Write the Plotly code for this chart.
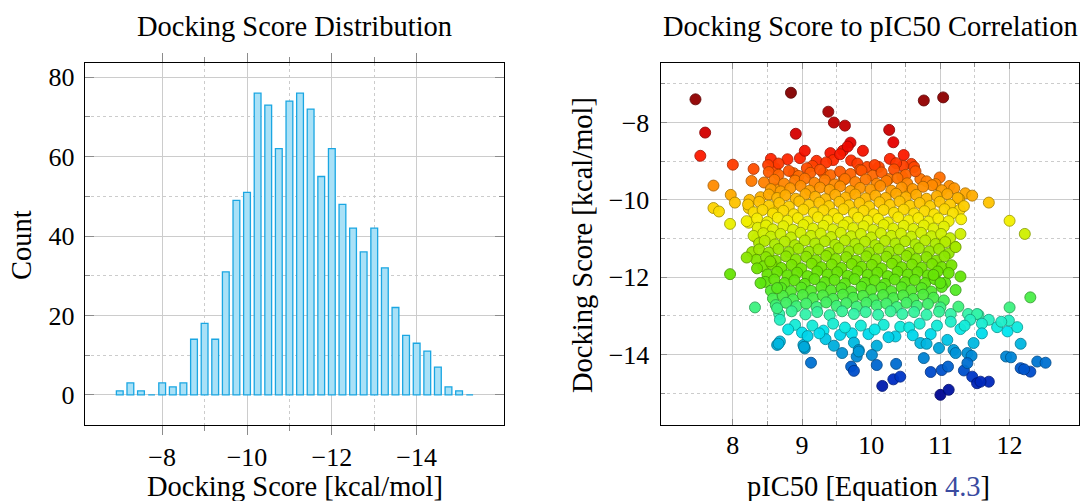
import numpy as np
import plotly.graph_objects as go

# ---------------- Histogram data ----------------
bin_centers = [-7.0, -7.25, -7.5, -7.75, -8.0, -8.25, -8.5, -8.75, -9.0, -9.25,
               -9.5, -9.75, -10.0, -10.25, -10.5, -10.75, -11.0, -11.25, -11.5, -11.75,
               -12.0, -12.25, -12.5, -12.75, -13.0, -13.25, -13.5, -13.75, -14.0, -14.25,
               -14.5, -14.75, -15.0, -15.25]
counts = [1, 3, 1, 0, 3, 2, 3, 14, 18, 14,
          31, 49, 51, 76, 73, 62, 74, 76, 72, 55,
          62, 48, 42, 36, 42, 32, 22, 15, 13, 11,
          7, 2, 1, 0]

hist_xticks = [-8, -10, -12, -14]
hist_xminor = [-9, -11, -13]
hist_yticks = [0, 20, 40, 60, 80]
hist_yminor = [10, 30, 50, 70]

# ---------------- Scatter data: (pIC50, docking score) ----------------
outliers_red = [
    (7.46, -7.40), (8.84, -7.23), (10.76, -7.43), (11.04, -7.35),
    (9.38, -7.72), (9.46, -8.00), (9.62, -8.08), (7.60, -8.26), (8.91, -8.29),
    (10.26, -8.19), (10.32, -8.51), (7.53, -8.86),
]
band_red = [
    (8.00, -9.09), (8.30, -9.20), (8.55, -8.94), (8.61, -9.18), (8.79, -8.95), (8.97, -8.92),
    (9.04, -8.73), (9.21, -8.99), (9.41, -8.79), (9.45, -8.97), (9.59, -8.73), (9.70, -8.52),
    (9.66, -8.62), (9.71, -8.98), (9.88, -8.73), (10.27, -8.94), (10.47, -8.84), (10.58, -9.07),
    (10.46, -9.12), (10.11, -9.15), (9.94, -9.15), (9.55, -8.82), (9.35, -9.03), (8.66, -9.06),
    (9.80, -9.06), (10.05, -9.10), (10.62, -9.15), (8.51, -9.10), (9.15, -9.12), (10.36, -9.05),
]
band_orange = [
    (8.27, -9.51), (7.72, -9.63), (7.97, -9.87), (8.03, -10.07), (7.72, -10.21), (7.80, -10.30),
    (7.96, -10.62), (8.24, -10.00), (8.23, -10.21), (8.23, -10.59), (8.35, -10.99), (8.58, -10.27),
    (8.61, -9.70), (8.88, -9.31), (9.07, -9.18), (9.31, -9.31), (9.60, -9.48), (9.84, -9.22),
    (10.25, -9.46), (10.71, -9.46), (10.99, -9.42), (10.45, -9.40), (10.93, -9.59), (11.13, -9.64),
    (10.56, -9.77), (11.36, -9.83), (11.46, -9.89), (11.70, -10.07), (12.00, -10.54), (12.22, -10.88),
    (11.29, -10.88), (11.21, -11.21), (11.04, -11.06), (11.28, -10.26), (11.27, -9.97),
]
core_upper = [
    (8.52, -9.28), (8.66, -9.35), (8.81, -9.25), (8.95, -9.38), (9.12, -9.30), (9.26, -9.22),
    (9.41, -9.36), (9.55, -9.27), (9.70, -9.33), (9.86, -9.24), (10.02, -9.37), (10.15, -9.29),
    (10.33, -9.21), (10.50, -9.35), (10.64, -9.26),
    (8.45, -9.55), (8.60, -9.48), (8.74, -9.58), (8.90, -9.50), (9.04, -9.45), (9.18, -9.56),
    (9.33, -9.49), (9.47, -9.60), (9.62, -9.46), (9.77, -9.54), (9.92, -9.47), (10.08, -9.58),
    (10.22, -9.51), (10.38, -9.44), (10.52, -9.57), (10.80, -9.52), (10.88, -9.62),
    (8.55, -9.72), (8.69, -9.78), (8.83, -9.70), (8.98, -9.64), (9.11, -9.76), (9.26, -9.68),
    (9.40, -9.74), (9.55, -9.65), (9.70, -9.77), (9.84, -9.69), (9.99, -9.73), (10.13, -9.64),
    (10.29, -9.76), (10.44, -9.68), (10.60, -9.72), (10.75, -9.66), (11.02, -9.75), (11.20, -9.70),
    (8.40, -9.93), (8.52, -9.86), (8.64, -9.95), (8.76, -9.88), (8.91, -9.97), (9.05, -9.85),
    (9.19, -9.92), (9.34, -9.98), (9.48, -9.87), (9.63, -9.94), (9.77, -9.86), (9.92, -9.96),
    (10.06, -9.89), (10.21, -9.95), (10.36, -9.84), (10.50, -9.93), (10.65, -9.87), (10.80, -9.97),
    (10.95, -9.90), (11.10, -9.85), (11.25, -9.95),
]
core_yellow = [
    (8.22, -10.12), (8.38, -10.05), (8.52, -10.15), (8.67, -10.08), (8.81, -10.17), (8.96, -10.04),
    (9.10, -10.13), (9.25, -10.07), (9.39, -10.16), (9.54, -10.05), (9.68, -10.14), (9.83, -10.08),
    (9.97, -10.17), (10.12, -10.06), (10.27, -10.13), (10.41, -10.04), (10.56, -10.15), (10.70, -10.08),
    (10.85, -10.16), (10.99, -10.05), (11.14, -10.12), (11.34, -10.16),
    (8.30, -10.32), (8.43, -10.26), (8.58, -10.35), (8.73, -10.28), (8.88, -10.37), (9.02, -10.25),
    (9.17, -10.33), (9.31, -10.27), (9.46, -10.36), (9.60, -10.24), (9.75, -10.34), (9.89, -10.28),
    (10.04, -10.37), (10.18, -10.26), (10.33, -10.33), (10.47, -10.25), (10.62, -10.35), (10.77, -10.29),
    (10.91, -10.37), (11.06, -10.24), (11.18, -10.34),
    (8.20, -10.55), (8.35, -10.48), (8.50, -10.57), (8.65, -10.46), (8.79, -10.54), (8.94, -10.47),
    (9.08, -10.56), (9.23, -10.45), (9.37, -10.53), (9.52, -10.48), (9.66, -10.57), (9.81, -10.46),
    (9.95, -10.54), (10.10, -10.49), (10.24, -10.58), (10.39, -10.45), (10.54, -10.53), (10.68, -10.47),
    (10.83, -10.56), (10.97, -10.48), (11.12, -10.55), (11.30, -10.50),
    (8.36, -10.72), (8.48, -10.66), (8.58, -10.76), (8.73, -10.68), (8.87, -10.77), (9.02, -10.65),
    (9.16, -10.74), (9.31, -10.67), (9.45, -10.76), (9.60, -10.66), (9.74, -10.73), (9.89, -10.68),
    (10.03, -10.77), (10.18, -10.65), (10.32, -10.74), (10.47, -10.67), (10.61, -10.75), (10.76, -10.66),
    (10.90, -10.74), (11.05, -10.69),
    (8.30, -10.93), (8.44, -10.86), (8.55, -10.95), (8.69, -10.88), (8.84, -10.97), (8.98, -10.85),
    (9.13, -10.93), (9.27, -10.87), (9.42, -10.96), (9.56, -10.85), (9.71, -10.94), (9.85, -10.88),
    (10.00, -10.97), (10.14, -10.86), (10.29, -10.93), (10.43, -10.87), (10.58, -10.95), (10.72, -10.85),
    (10.87, -10.94), (11.01, -10.88), (11.14, -10.99),
]
core_green = [
    (8.38, -11.12), (8.46, -11.06), (8.61, -11.15), (8.75, -11.08), (8.90, -11.17), (9.04, -11.05),
    (9.19, -11.13), (9.33, -11.07), (9.48, -11.16), (9.62, -11.05), (9.77, -11.14), (9.91, -11.08),
    (10.06, -11.17), (10.20, -11.06), (10.35, -11.13), (10.49, -11.07), (10.64, -11.15), (10.78, -11.05),
    (10.93, -11.14), (11.07, -11.09),
    (8.28, -11.35), (8.38, -11.28), (8.52, -11.36), (8.66, -11.27), (8.81, -11.35), (8.95, -11.26),
    (9.10, -11.34), (9.24, -11.28), (9.39, -11.37), (9.53, -11.25), (9.68, -11.33), (9.82, -11.27),
    (9.97, -11.36), (10.11, -11.26), (10.26, -11.34), (10.40, -11.28), (10.55, -11.37), (10.69, -11.25),
    (10.84, -11.33), (10.98, -11.27), (11.12, -11.38),
    (8.34, -11.55), (8.48, -11.48), (8.62, -11.57), (8.77, -11.46), (8.91, -11.54), (9.06, -11.47),
    (9.20, -11.56), (9.35, -11.45), (9.49, -11.53), (9.64, -11.48), (9.78, -11.57), (9.93, -11.46),
    (10.07, -11.54), (10.22, -11.47), (10.36, -11.56), (10.51, -11.45), (10.65, -11.53), (10.80, -11.48),
    (10.94, -11.57), (11.06, -11.46),
    (8.44, -11.72), (8.56, -11.66), (8.70, -11.76), (8.85, -11.68), (8.99, -11.77), (9.14, -11.65),
    (9.28, -11.74), (9.43, -11.67), (9.57, -11.76), (9.72, -11.66), (9.86, -11.73), (10.01, -11.68),
    (10.15, -11.77), (10.30, -11.65), (10.44, -11.74), (10.59, -11.67), (10.73, -11.75), (10.88, -11.66),
    (11.02, -11.74), (11.16, -11.69),
    (8.50, -11.93), (8.64, -11.86), (8.79, -11.95), (8.93, -11.88), (9.08, -11.97), (9.22, -11.85),
    (9.37, -11.93), (9.51, -11.87), (9.66, -11.96), (9.80, -11.85), (9.95, -11.94), (10.09, -11.88),
    (10.24, -11.97), (10.38, -11.86), (10.53, -11.93), (10.67, -11.87), (10.82, -11.95), (10.96, -11.85),
]
core_lower = [
    (8.47, -12.12), (8.60, -12.06), (8.75, -12.15), (8.89, -12.08), (9.04, -12.17), (9.18, -12.05),
    (9.33, -12.13), (9.47, -12.07), (9.62, -12.16), (9.76, -12.05), (9.91, -12.14), (10.05, -12.08),
    (10.20, -12.17), (10.34, -12.06), (10.49, -12.13), (10.63, -12.07), (10.78, -12.15), (10.92, -12.05),
    (11.07, -12.14),
    (8.55, -12.35), (8.70, -12.28), (8.84, -12.36), (8.99, -12.27), (9.13, -12.35), (9.28, -12.26),
    (9.42, -12.34), (9.57, -12.28), (9.71, -12.37), (9.86, -12.25), (10.00, -12.33), (10.15, -12.27),
    (10.29, -12.36), (10.44, -12.26), (10.58, -12.34), (10.73, -12.28), (10.87, -12.37), (11.02, -12.25),
    (8.58, -12.55), (8.72, -12.48), (8.87, -12.57), (9.01, -12.46), (9.16, -12.54), (9.30, -12.47),
    (9.45, -12.56), (9.59, -12.45), (9.74, -12.53), (9.88, -12.48), (10.03, -12.57), (10.17, -12.46),
    (10.32, -12.54), (10.46, -12.47), (10.61, -12.56), (10.75, -12.45), (10.90, -12.53), (11.05, -12.60),
    (8.62, -12.72), (8.77, -12.66), (8.92, -12.75), (9.06, -12.68), (9.21, -12.77), (9.35, -12.65),
    (9.50, -12.74), (9.64, -12.67), (9.79, -12.76), (9.93, -12.66), (10.08, -12.73), (10.22, -12.68),
    (10.37, -12.77), (10.51, -12.66), (10.66, -12.74), (10.82, -12.69), (11.00, -12.78),
    (8.67, -12.95), (8.85, -12.88), (9.05, -12.96), (9.22, -12.90), (9.40, -12.98), (9.58, -12.88),
    (9.75, -12.95), (9.92, -12.90), (10.10, -12.97), (10.28, -12.88), (10.45, -12.95), (10.62, -12.90),
    (10.80, -12.97), (10.98, -12.89), (11.15, -12.95), (11.40, -12.95), (11.55, -12.97),
]
band_cyan = [
    (7.96, -11.92), (8.20, -11.49), (8.32, -12.78), (8.64, -13.75), (8.68, -13.66), (9.02, -13.75),
    (9.04, -13.84), (8.90, -13.23), (9.00, -13.43), (9.08, -13.52), (9.31, -13.38), (9.34, -13.60),
    (9.46, -13.77), (9.58, -13.96), (9.55, -13.49), (9.72, -13.45), (9.75, -13.69), (9.82, -13.88),
    (8.68, -13.10), (8.64, -12.80), (8.40, -12.15), (8.35, -11.77), (8.54, -11.59), (8.64, -12.28),
    (12.30, -12.52), (12.00, -12.78), (11.26, -12.76), (11.22, -12.33), (11.29, -11.98), (11.12, -11.89),
    (11.22, -11.22), (11.00, -12.15), (10.90, -11.94),
    (11.53, -12.95), (11.70, -13.10), (11.82, -13.29), (11.97, -13.40), (12.11, -13.29), (11.99, -13.12),
    (12.16, -13.72), (11.43, -13.10), (11.29, -13.34), (11.48, -13.70), (11.19, -13.88), (11.10, -13.62),
    (10.98, -13.83), (10.86, -13.47), (10.71, -13.70), (10.80, -13.72), (10.42, -13.28), (10.35, -13.53),
    (10.18, -13.23), (9.96, -13.47), (10.08, -13.77),
    (9.15, -13.25), (9.45, -13.20), (9.62, -13.30), (9.85, -13.25), (10.05, -13.35), (10.55, -13.30),
    (10.70, -13.20), (10.95, -13.25), (11.15, -13.15), (11.35, -13.25), (11.60, -13.20), (11.88, -13.15),
    (10.25, -13.55), (10.60, -13.50), (9.25, -13.45), (8.80, -13.35), (11.60, -13.45),
]
band_blue = [
    (10.01, -14.01), (10.76, -14.09), (11.39, -13.96), (11.45, -14.03), (11.95, -14.05), (12.02, -14.07),
    (12.16, -14.35), (12.30, -14.44), (12.40, -14.18), (12.52, -14.21), (12.21, -14.38),
    (10.08, -14.27), (10.36, -14.24), (10.32, -14.64), (10.42, -14.57), (10.16, -14.81), (10.86, -14.45),
    (11.02, -14.40), (11.11, -14.31), (11.34, -14.41), (11.46, -14.57), (11.53, -14.74), (11.70, -14.70),
    (11.58, -14.70), (11.00, -15.04), (11.12, -14.91), (11.39, -14.22), (11.22, -13.96),
    (9.13, -14.21), (9.71, -14.31), (9.75, -14.42), (9.79, -14.05), (9.82, -13.92), (8.66, -13.72),
    (9.03, -13.80),
]

sc_xticks = [8, 9, 10, 11, 12]
sc_xminor = [8.5, 9.5, 10.5, 11.5]
sc_yticks = [-8, -10, -12, -14]
sc_yminor = [-7, -9, -11, -13, -15]

# colour map for docking score (value -> rgb)
cmap_vals = [-15.1, -14.6, -14.2, -13.8, -13.4, -13.0, -12.6, -12.2, -11.8, -11.3,
             -10.9, -10.5, -10.1, -9.7, -9.3, -8.9, -8.5, -8.0, -7.2]
cmap_rgb = [(0, 0, 140), (0, 50, 200), (0, 115, 210), (0, 170, 220), (0, 230, 240),
            (50, 245, 180), (70, 240, 85), (92, 232, 18), (110, 228, 0), (155, 232, 0),
            (205, 240, 0), (248, 240, 0), (255, 200, 0), (255, 150, 0), (255, 95, 0),
            (255, 30, 0), (230, 0, 0), (190, 0, 0), (130, 0, 0)]

# ---------------- build ----------------
all_pts = (outliers_red + band_red + band_orange + core_upper + core_yellow +
           core_green + core_lower + band_cyan + band_blue)
sx = [p[0] for p in all_pts]
sy = [p[1] for p in all_pts]

cr = np.array(cmap_rgb, dtype=float)
def col(v, k=1.0):
    r = np.interp(v, cmap_vals, cr[:, 0]) * k
    g = np.interp(v, cmap_vals, cr[:, 1]) * k
    b = np.interp(v, cmap_vals, cr[:, 2]) * k
    return f"rgb({int(r)},{int(g)},{int(b)})"

fill_cols = [col(v) for v in sy]
edge_cols = [col(v, 0.66) for v in sy]

FONT = "Liberation Serif"
fig = go.Figure()

fig.add_trace(go.Bar(
    x=bin_centers, y=counts, width=0.16,
    marker=dict(color="#a9e1f7", line=dict(color="#1aa6e2", width=1.3)),
    xaxis="x", yaxis="y", showlegend=False,
))

fig.add_trace(go.Scatter(
    x=sx, y=sy, mode="markers",
    marker=dict(size=11, color=fill_cols, opacity=0.95,
                line=dict(color=edge_cols, width=0.9)),
    xaxis="x2", yaxis="y2", showlegend=False,
))

grid = "#cccccc"
tickc = "#8c8c8c"
dom_y = [0.1517, 0.8743]

fig.update_layout(
    width=1080, height=501,
    margin=dict(l=0, r=0, t=0, b=0),
    paper_bgcolor="white", plot_bgcolor="white",
    font=dict(family=FONT, size=26, color="black"),
    bargap=0,
    xaxis=dict(
        domain=[0.0787, 0.4667], range=[-6.18, -16.06],
        tickvals=hist_xticks, ticks="outside", ticklen=9, tickcolor=tickc, tickwidth=1,
        showline=True, linecolor="black", linewidth=1.2, mirror="ticks",
        showgrid=True, gridcolor=grid, gridwidth=1, zeroline=False,
        ticklabelstandoff=0,
        minor=dict(tickvals=hist_xminor, ticks="outside", ticklen=5, tickcolor=tickc,
                   showgrid=True, gridcolor=grid, griddash="dot"),
    ),
    yaxis=dict(
        domain=dom_y, range=[-7.6, 83.6],
        tickvals=hist_yticks, ticks="inside", ticklen=9, tickcolor=tickc, tickwidth=1,
        showline=True, linecolor="black", linewidth=1.2, mirror="ticks",
        showgrid=True, gridcolor=grid, gridwidth=1, zeroline=False,
        ticklabelstandoff=4,
        minor=dict(tickvals=hist_yminor, ticks="inside", ticklen=5, tickcolor=tickc,
                   showgrid=True, gridcolor=grid, griddash="dot"),
    ),
    xaxis2=dict(
        domain=[0.6118, 0.9995], range=[6.958, 13.01], anchor="y2",
        tickvals=sc_xticks, ticks="inside", ticklen=6, tickcolor=tickc, tickwidth=1,
        showline=True, linecolor="black", linewidth=1.2, mirror="ticks",
        showgrid=True, gridcolor=grid, gridwidth=1, zeroline=False,
        ticklabelstandoff=-3,
        minor=dict(tickvals=sc_xminor, ticks="inside", ticklen=4, tickcolor=tickc,
                   showgrid=True, gridcolor=grid, griddash="dot"),
    ),
    yaxis2=dict(
        domain=dom_y, range=[-15.82, -6.46], anchor="x2",
        tickvals=sc_yticks, ticks="inside", ticklen=6, tickcolor=tickc, tickwidth=1,
        showline=True, linecolor="black", linewidth=1.2, mirror="ticks",
        showgrid=True, gridcolor=grid, gridwidth=1, zeroline=False,
        ticklabelstandoff=5,
        minor=dict(tickvals=sc_yminor, ticks="inside", ticklen=4, tickcolor=tickc,
                   showgrid=True, gridcolor=grid, griddash="dot"),
    ),
)

def ann(text, x, y, angle=0, size=28.5):
    fig.add_annotation(text=text, x=x, y=y, xref="paper", yref="paper",
                       xanchor="center", yanchor="middle", showarrow=False,
                       textangle=angle, font=dict(family=FONT, size=size, color="black"))

ann("Docking Score Distribution", 0.2727, 0.948)
ann("Docking Score to pIC50 Correlation", 0.8056, 0.948)
ann("Docking Score [kcal/mol]", 0.2727, 0.028)
ann("pIC50 [Equation <span style='color:#3a4ba0'>4.3</span>]", 0.8046, 0.028)
ann("Count", 0.0204, 0.511, angle=-90)
ann("Docking Score [kcal/mol]", 0.5398, 0.511, angle=-90)

fig.write_html(
    "out.html",
    config={"displayModeBar": False, "staticPlot": True},
    post_script="document.body.style.margin='0';document.body.style.padding='0';"
                "document.documentElement.style.overflow='hidden';",
)
